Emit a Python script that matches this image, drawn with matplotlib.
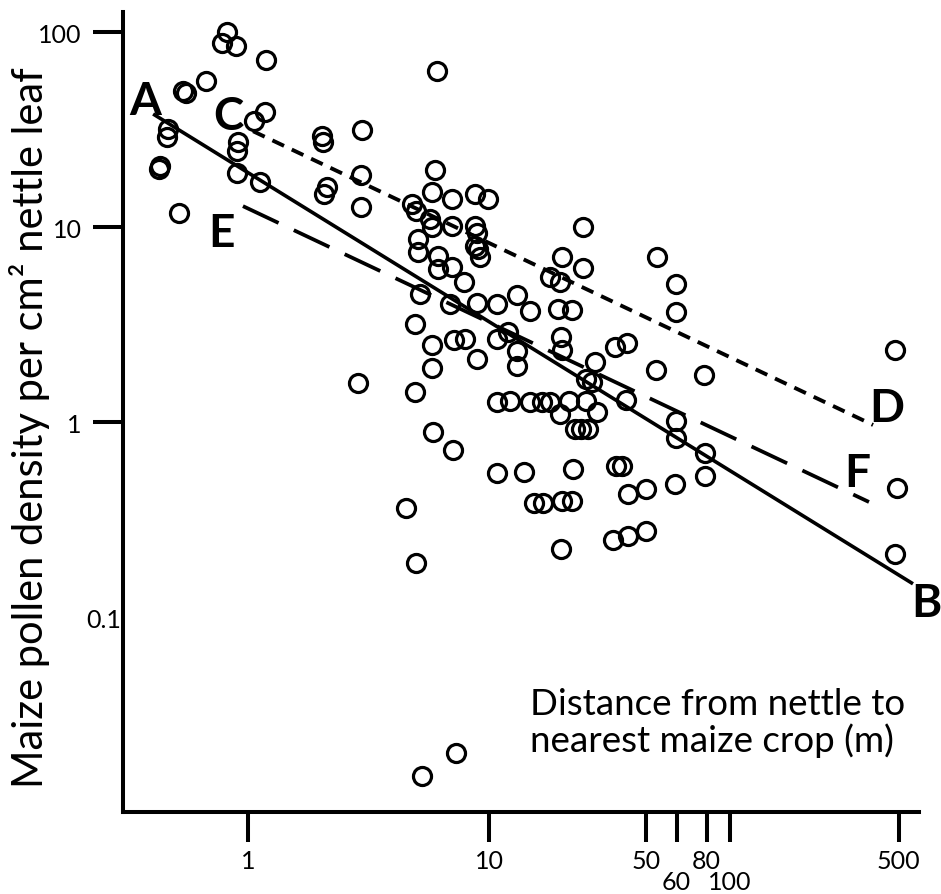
import matplotlib
matplotlib.use('Agg')
import matplotlib.pyplot as plt
from matplotlib.ticker import NullLocator

plt.rcParams['font.family'] = ['Lato', 'DejaVu Sans']

# distance from nettle to nearest maize crop (m)
dist_m = [0.818, 0.780, 0.892, 1.19, 0.669, 0.537, 0.553, 1.18, 1.06, 0.466,
          0.461, 0.909, 0.900, 0.431, 0.427, 0.900, 1.12, 0.517, 2.03, 2.05,
          2.97, 2.94, 2.13, 2.07, 2.94, 2.86, 6.08, 5.97, 5.80, 7.02,
          8.75, 9.91, 4.79, 4.98, 5.69, 5.80, 7.02, 8.75, 8.92, 8.75,
          9.00, 9.18, 5.07, 5.07, 6.14, 6.14, 7.02, 7.88, 24.5, 20.1,
          24.5, 17.9, 19.7, 49.8, 5.17, 6.89, 8.92, 10.8, 13.1, 14.8,
          19.3, 22.1, 4.93, 5.80, 7.16, 7.95, 10.8, 12.0, 13.1, 13.1,
          8.92, 5.80, 19.9, 20.1, 27.5, 25.3, 26.8, 33.3, 37.4, 4.93,
          10.8, 12.2, 14.8, 16.6, 17.9, 21.5, 25.3, 19.7, 28.1, 22.7,
          24.1, 25.7, 5.86, 7.09, 10.8, 14.0, 22.3, 33.7, 35.6, 37.7,
          44.8, 59.1, 15.4, 16.8, 20.1, 22.1, 4.52, 32.7, 37.7, 44.8,
          19.9, 4.98, 37.0, 49.3, 78.0, 59.7, 59.7, 78.8, 78.8, 59.7,
          59.7, 484, 493, 484, 5.27, 7.30]

# maize pollen density per cm2 nettle leaf
pollen = [100, 87.8, 84.8, 71.8, 56.1, 49.8, 48.7, 38.9, 35.0, 31.8,
          28.9, 27.3, 24.5, 20.6, 19.8, 18.9, 17.0, 11.8, 29.3, 27.3,
          31.4, 18.5, 16.0, 14.8, 12.7, 1.58, 63.1, 19.6, 15.1, 13.9,
          14.8, 13.9, 13.1, 12.1, 11.0, 10.0, 10.1, 10.1, 9.32, 7.99,
          7.71, 7.02, 8.68, 7.44, 7.10, 6.09, 6.24, 5.22, 10.0, 7.02,
          6.16, 5.54, 5.22, 7.02, 4.53, 4.03, 4.08, 4.03, 4.48, 3.71,
          3.80, 3.75, 3.18, 2.48, 2.63, 2.66, 2.66, 2.89, 2.31, 1.94,
          2.10, 1.89, 2.73, 2.34, 2.03, 1.66, 1.60, 2.42, 2.54, 1.43,
          1.27, 1.28, 1.27, 1.27, 1.27, 1.28, 1.28, 1.10, 1.13, 0.921,
          0.921, 0.921, 0.889, 0.718, 0.548, 0.554, 0.574, 0.595, 0.595, 0.427,
          0.453, 0.481, 0.384, 0.384, 0.394, 0.394, 0.362, 0.248, 0.260, 0.276,
          0.223, 0.189, 1.30, 1.85, 1.74, 1.01, 0.828, 0.693, 0.529, 5.10,
          3.66, 2.34, 0.459, 0.210, 0.0153, 0.0201]

# regression lines (end points)
line_AB_x = [0.404, 574]
line_AB_y = [38.0, 0.148]
line_CD_x = [1.05, 392]
line_CD_y = [31.0, 0.966]
line_EF_x = [0.953, 377]
line_EF_y = [12.8, 0.389]

x_ticks = [1, 10, 45, 60, 80, 100, 500]
x_tick_labels = ['1', '10', '50', '60', '80', '100', '500']
y_ticks = [0.1, 1, 10, 100]
y_tick_labels = ['0.1', '1', '10', '100']

fig = plt.figure(figsize=(9.41, 8.95), dpi=100)
ax = fig.add_axes([123 / 941, 1 - 813 / 895, 796 / 941, 800 / 895])
ax.set_xscale('log')
ax.set_yscale('log')
ax.set_xlim(0.303, 608)
ax.set_ylim(0.01, 126.7)

ax.plot(line_AB_x, line_AB_y, color='black', lw=2.6, solid_capstyle='butt')
ax.plot(line_CD_x, line_CD_y, color='black', lw=2.8, linestyle=(0, (3.3, 2.2)))
ax.plot(line_EF_x, line_EF_y, color='black', lw=2.7, linestyle=(0, (10.5, 4.5)))

ax.plot(dist_m, pollen, linestyle='none', marker='o', mfc='none', mec='black',
        ms=13, mew=2.3, clip_on=False)

for lab, lx, ly in [('A', 0.374, 38.0), ('C', 0.826, 31.8), ('E', 0.780, 7.99),
                    ('D', 448, 1.01), ('F', 336, 0.470), ('B', 650, 0.101)]:
    ax.text(lx, ly, lab, fontsize=33, fontweight='bold', ha='center',
            va='baseline', clip_on=False)

for s in ['top', 'right']:
    ax.spines[s].set_visible(False)
for s in ['left', 'bottom']:
    ax.spines[s].set_linewidth(2.9)

ax.set_xticks(x_ticks, x_tick_labels)
ax.set_yticks(y_ticks, y_tick_labels)
ax.xaxis.set_minor_locator(NullLocator())
ax.yaxis.set_minor_locator(NullLocator())
ax.tick_params(axis='both', which='major', length=21.6, width=2.9,
               direction='out', labelsize=18)
ax.tick_params(axis='x', pad=5)
ax.tick_params(axis='y', pad=8)
xt = ax.xaxis.get_major_ticks()
for i in [3, 5]:
    xt[i].set_pad(5 + 15)
yt = ax.yaxis.get_major_ticks()
yt[0].tick1line.set_visible(False)
yt[0].set_pad(-20.5)

fig.text(530 / 941, 1 - 715 / 895, 'Distance from nettle to', fontsize=26.5,
         ha='left', va='baseline')
fig.text(530 / 941, 1 - 752 / 895, 'nearest maize crop (m)', fontsize=26.5,
         ha='left', va='baseline')
fig.text(30 / 941, 1 - 428 / 895, 'Maize pollen density per cm² nettle leaf',
         fontsize=30, rotation=90, ha='center', va='center')

fig.savefig('out.png', dpi=100)
